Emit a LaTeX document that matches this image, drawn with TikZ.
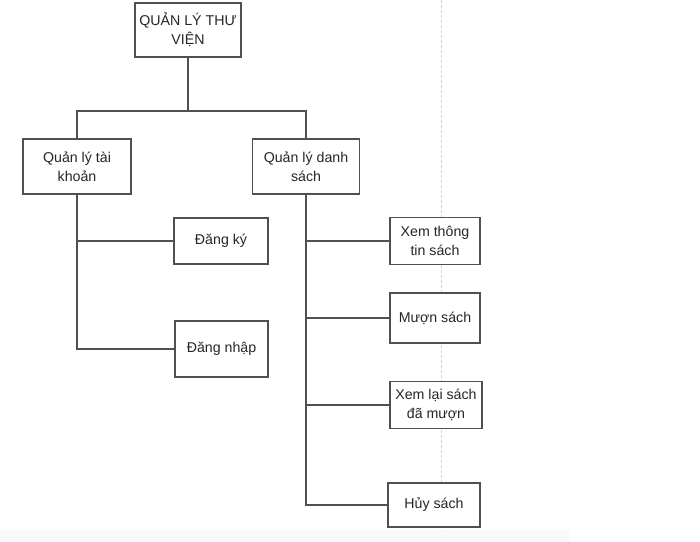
\documentclass[tikz,border=0pt]{standalone}
\usepackage{fontspec}
\setmainfont{Liberation Sans}
\begin{document}
\begin{tikzpicture}[x=1pt,y=-1pt,
  box/.style={draw=boxline, line width=1.1pt, fill=white, text=txt,
    align=center, inner sep=0pt,
    font=\fontsize{14.2}{19}\selectfont},
  link/.style={draw=boxline, line width=1.1pt},
]
\definecolor{boxline}{HTML}{505050}
\definecolor{txt}{HTML}{262626}
\definecolor{guide}{HTML}{D4D4D4}
\definecolor{band}{HTML}{F9F9F9}
\useasboundingbox (0,0) rectangle (700,541);

% page strip and guide line in the background
\fill[band] (0,530) rectangle (569,541);
\draw[guide, line width=0.8pt, dash pattern=on 3pt off 2pt] (441,0) -- (441,530);

% boxes
\node[box, minimum width=106pt, minimum height=54pt] (root) at (188,30) {QUẢN LÝ THƯ\\VIỆN};
\node[box, minimum width=108pt, minimum height=55pt] (tk) at (77,166.5) {Quản lý tài\\khoản};
\node[box, minimum width=107pt, minimum height=55pt] (ds) at (306,166.5) {Quản lý danh\\sách};
\node[box, minimum width=94pt, minimum height=46pt] (dk) at (221,241) {Đăng ký};
\node[box, minimum width=93pt, minimum height=56pt] (dn) at (221.5,349) {Đăng nhập};
\node[box, minimum width=90pt, minimum height=47pt] (xem) at (435,241) {Xem thông\\tin sách};
\node[box, minimum width=90pt, minimum height=50pt] (muon) at (435,318) {Mượn sách};
\node[box, minimum width=92pt, minimum height=47pt] (xemlai) at (436,405) {Xem lại sách\\đã mượn};
\node[box, minimum width=92pt, minimum height=44pt] (huy) at (434,505) {Hủy sách};

% bus under the root
\coordinate (bus) at (188,111);
\draw[link] (root.south) -- (bus);
\draw[link] (tk.north) -- (tk.north |- bus) -- (ds.north |- bus) -- (ds.north);

% account branch
\draw[link] (tk.south) -- (tk.south |- dn.west) -- (dn.west);
\draw[link] (tk.south |- dk.west) -- (dk.west);

% list branch
\draw[link] (ds.south) -- (ds.south |- huy.west) -- (huy.west);
\draw[link] (ds.south |- xem.west) -- (xem.west);
\draw[link] (ds.south |- muon.west) -- (muon.west);
\draw[link] (ds.south |- xemlai.west) -- (xemlai.west);
\end{tikzpicture}
\end{document}
